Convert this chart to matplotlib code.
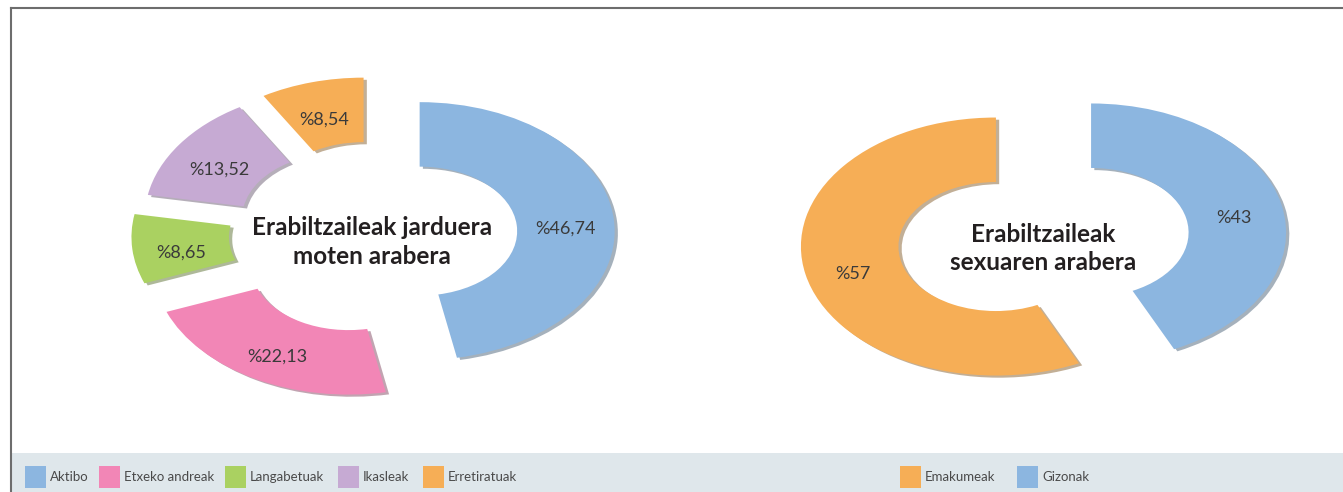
import matplotlib
matplotlib.use("Agg")
import matplotlib.pyplot as plt
from matplotlib.patches import Rectangle
from matplotlib.lines import Line2D

plt.rcParams['font.family'] = ['Lato', 'DejaVu Sans']

# --- data -------------------------------------------------------------
activity_labels = ['Aktibo', 'Etxeko andreak', 'Langabetuak', 'Ikasleak', 'Erretiratuak']
activity_pct = [46.74, 22.13, 8.65, 13.52, 8.54]
activity_colors = ['#8cb6e0', '#f286b6', '#aad161', '#c6aad3', '#f6ae56']

sex_labels = ['Emakumeak', 'Gizonak']
sex_pct = [57, 43]
sex_colors = ['#f6ae56', '#8cb6e0']

W, H = 1343, 492
fig = plt.figure(figsize=(W / 100, H / 100), dpi=100)

# donut geometry in pixels (ellipse, squashed vertically)
RX, RY = 195, 129
XL, YL = 1.5, 1.6


def px_axes(cx, cy):
    w, h = 2 * XL * RX, 2 * YL * RY
    return fig.add_axes([(cx - w / 2) / W, 1 - (cy + h / 2) / H, w / W, h / H])


def fmt(v):
    return '%' + f"{v:g}".replace('.', ',')


def donut(ax, vals, colors, explode, counterclock):
    wedges, texts = ax.pie(vals, colors=colors, explode=explode, startangle=90,
                           counterclock=counterclock,
                           labels=[fmt(v) for v in vals], labeldistance=0.75,
                           wedgeprops=dict(width=0.5, linewidth=0),
                           shadow=dict(ox=0.012, oy=-0.012, shade=0.45),
                           textprops=dict(fontsize=13, color='#3a3a3a'))
    for t in texts:
        t.set_ha('center')
        t.set_va('center')
        x, y = t.get_position()
        t.set_position((x, y - 0.05))
    ax.set_aspect('auto')
    ax.set_xlim(-XL, XL)
    ax.set_ylim(-YL, YL)
    ax.axis('off')


ax1 = px_axes(375, 234)
donut(ax1, activity_pct, activity_colors, [0.23, 0.28, 0.25, 0.22, 0.22], False)
ax1.text(-0.015, -0.06, 'Erabiltzaileak jarduera\nmoten arabera', ha='center', va='center',
         fontsize=17.5, fontweight='bold', color='#231f20', linespacing=1.3)

ax2 = px_axes(1043.5, 239.5)
donut(ax2, sex_pct, sex_colors, [0.25, 0.25], True)
ax2.text(0, -0.07, 'Erabiltzaileak\nsexuaren arabera', ha='center', va='center',
         fontsize=17.5, fontweight='bold', color='#231f20', linespacing=1.3)

# frame lines
fig.add_artist(Line2D([11 / W, 11 / W], [0, 1 - 8 / H], transform=fig.transFigure,
                      color='#6d6d6d', lw=1.5))
fig.add_artist(Line2D([11 / W, 1], [1 - 8 / H, 1 - 8 / H], transform=fig.transFigure,
                      color='#6d6d6d', lw=1.5))

# legend band
fig.add_artist(Rectangle((12 / W, 0), 1 - 12 / W, 39 / H, transform=fig.transFigure,
                         facecolor='#dfe7eb', edgecolor='none'))


def legend_row(labels, colors, xs):
    for lab, col, x in zip(labels, colors, xs):
        fig.add_artist(Rectangle((x / W, 4 / H), 21 / W, 22 / H, transform=fig.transFigure,
                                 facecolor=col, edgecolor='none'))
        fig.text((x + 25) / W, 15 / H, lab, ha='left', va='center', fontsize=9.5,
                 color='#4a4a4a')


legend_row(activity_labels, activity_colors, [25, 99, 225, 338, 423])
legend_row(sex_labels, sex_colors, [900, 1017])

fig.savefig('out.png', dpi=100)
